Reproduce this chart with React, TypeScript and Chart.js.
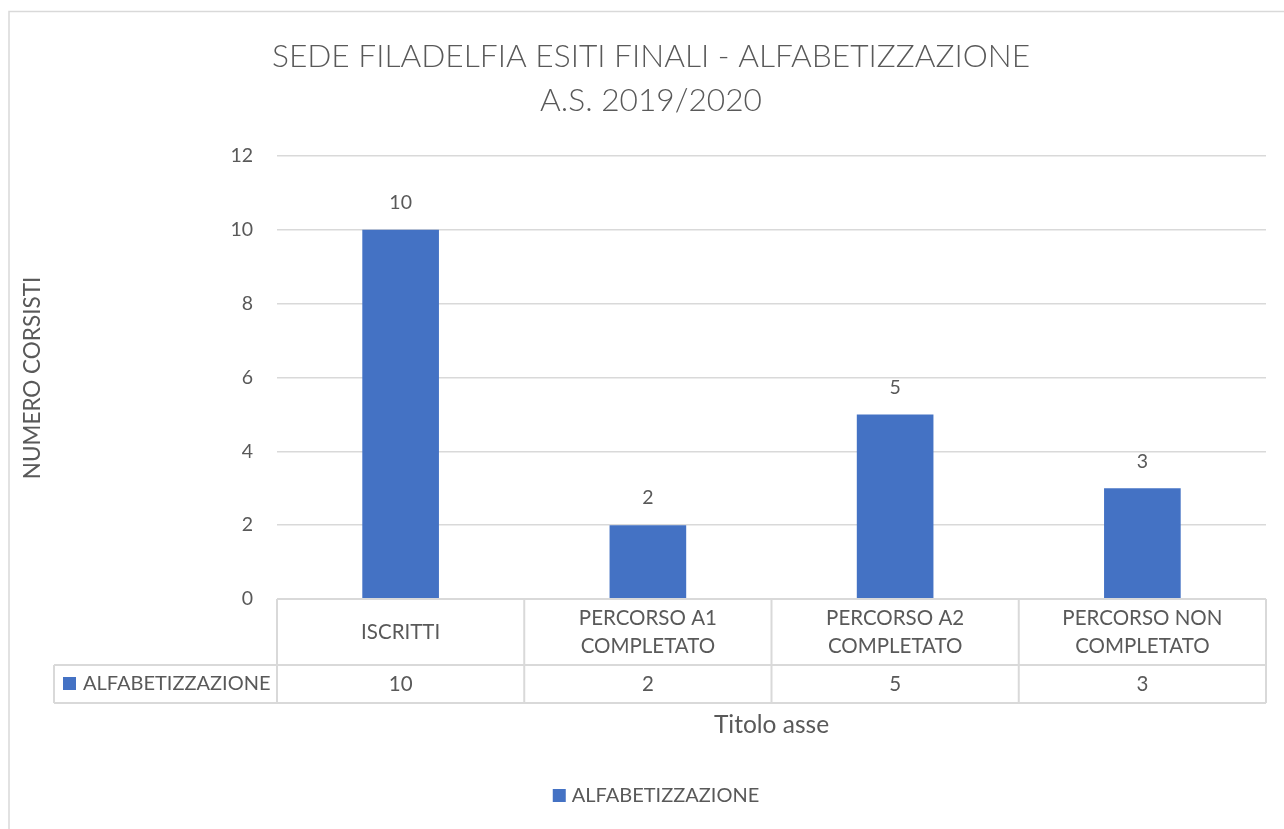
import React, { useEffect, useRef } from "react";
import { Chart, registerables } from "chart.js";
Chart.register(...registerables);

const categories: string[][] = [
  ["ISCRITTI"],
  ["PERCORSO A1", "COMPLETATO"],
  ["PERCORSO A2", "COMPLETATO"],
  ["PERCORSO NON", "COMPLETATO"],
];
const seriesName = "ALFABETIZZAZIONE";
const values = [10, 2, 5, 3];
const yMin = 0;
const yMax = 12;
const yStep = 2;
const titleLines = ["SEDE FILADELFIA ESITI FINALI - ALFABETIZZAZIONE", "A.S. 2019/2020"];
const yAxisTitle = "NUMERO CORSISTI";
const xAxisTitle = "Titolo asse";

const FONT = "Lato, 'Open Sans', sans-serif";
const TEXT = "#595959";
const LINE = "#d9d9d9";
const BAR = "#4472C4";

const decor = {
  id: "decor",
  afterDraw(chart: any) {
    const ctx: CanvasRenderingContext2D = chart.ctx;
    const ca = chart.chartArea;
    const xs = chart.scales.x;
    const n = categories.length;
    const cw = (ca.right - ca.left) / n;
    ctx.save();
    // frame
    ctx.strokeStyle = "#d9d9d9";
    ctx.lineWidth = 1.5;
    ctx.beginPath();
    ctx.moveTo(9, 1300);
    ctx.lineTo(9, 11.5);
    ctx.lineTo(1300, 11.5);
    ctx.stroke();

    ctx.fillStyle = TEXT;
    ctx.textAlign = "center";
    ctx.textBaseline = "middle";
    // title
    ctx.font = `300 31.7px ${FONT}`;
    ctx.fillText(titleLines[0], 651, 57);
    ctx.fillText(titleLines[1], 651, 101);

    // y-axis title
    ctx.save();
    ctx.translate(33, 378);
    ctx.rotate(-Math.PI / 2);
    ctx.font = `22.5px ${FONT}`;
    ctx.fillText(yAxisTitle, 0, 0);
    ctx.restore();

    // data labels
    const meta = chart.getDatasetMeta(0);
    ctx.font = `19.5px ${FONT}`;
    meta.data.forEach((el: any, i: number) => {
      ctx.fillText(String(values[i]), el.x, el.y - 27);
    });

    // data table
    const top = ca.bottom;
    const rowMid = top + 66;
    const bot = top + 104;
    const legLeft = 54;
    ctx.strokeStyle = LINE;
    ctx.lineWidth = 2;
    ctx.beginPath();
    ctx.moveTo(ca.left, top);
    ctx.lineTo(ca.right, top);
    ctx.moveTo(legLeft, rowMid);
    ctx.lineTo(ca.right, rowMid);
    ctx.moveTo(legLeft, bot);
    ctx.lineTo(ca.right, bot);
    ctx.moveTo(legLeft, rowMid);
    ctx.lineTo(legLeft, bot);
    for (let i = 0; i < n; i++) {
      const x0 = xs.getPixelForValue(i) - cw / 2;
      ctx.moveTo(x0, top);
      ctx.lineTo(x0, bot);
    }
    ctx.moveTo(ca.right, top);
    ctx.lineTo(ca.right, bot);
    ctx.stroke();

    ctx.font = `20.5px ${FONT}`;
    categories.forEach((lines, i) => {
      const cx = xs.getPixelForValue(i);
      const lh = 28;
      const start = top + 33 - ((lines.length - 1) * lh) / 2;
      lines.forEach((l, j) => ctx.fillText(l, cx, start + j * lh));
      ctx.fillText(String(values[i]), cx, (rowMid + bot) / 2);
    });
    // legend in table
    const ly = (rowMid + bot) / 2;
    ctx.fillStyle = BAR;
    ctx.fillRect(63, ly - 7, 13, 13);
    ctx.fillStyle = TEXT;
    ctx.textAlign = "left";
    ctx.font = `20px ${FONT}`;
    ctx.fillText(seriesName, 83, ly);

    // x axis title
    ctx.textAlign = "center";
    ctx.font = `24.5px ${FONT}`;
    ctx.fillText(xAxisTitle, (ca.left + ca.right) / 2, bot + 22);

    // legend bottom
    ctx.font = `20px ${FONT}`;
    const lw = ctx.measureText(seriesName).width;
    const total = 13 + 6 + lw;
    const lx = 656 - total / 2;
    ctx.fillStyle = BAR;
    ctx.fillRect(lx, 789, 13, 13);
    ctx.fillStyle = TEXT;
    ctx.textAlign = "left";
    ctx.fillText(seriesName, lx + 19, 796);
    ctx.restore();
  },
};

export default function App() {
  const ref = useRef<HTMLCanvasElement | null>(null);
  useEffect(() => {
    if (!ref.current) return;
    const chart = new Chart(ref.current, {
      type: "bar",
      data: {
        labels: categories.map((c) => c.join(" ")),
        datasets: [
          {
            label: seriesName,
            data: values,
            backgroundColor: BAR,
            categoryPercentage: 1,
            barPercentage: 0.31,
          },
        ],
      },
      options: {
        responsive: false,
        animation: false,
        layout: { padding: { left: 0, right: 18, top: 156, bottom: 230 } },
        plugins: {
          legend: { display: false },
          title: { display: false },
          tooltip: { enabled: false },
        },
        scales: {
          x: { display: false, offset: true },
          y: {
            min: yMin,
            max: yMax,
            ticks: {
              stepSize: yStep,
              padding: 24,
              color: TEXT,
              font: { family: FONT, size: 19.5 },
            },
            grid: { color: LINE, drawTicks: false, lineWidth: 1.5 },
            border: { display: false },
            afterFit: (s: any) => {
              s.width = 277;
            },
          },
        },
      },
      plugins: [decor],
    });
    return () => chart.destroy();
  }, []);
  return (
    <div style={{ position: "absolute", left: 0, top: 0, width: 1284, height: 829, background: "#fff" }}>
      <canvas ref={ref} width={1284} height={829} style={{ display: "block" }} />
    </div>
  );
}
